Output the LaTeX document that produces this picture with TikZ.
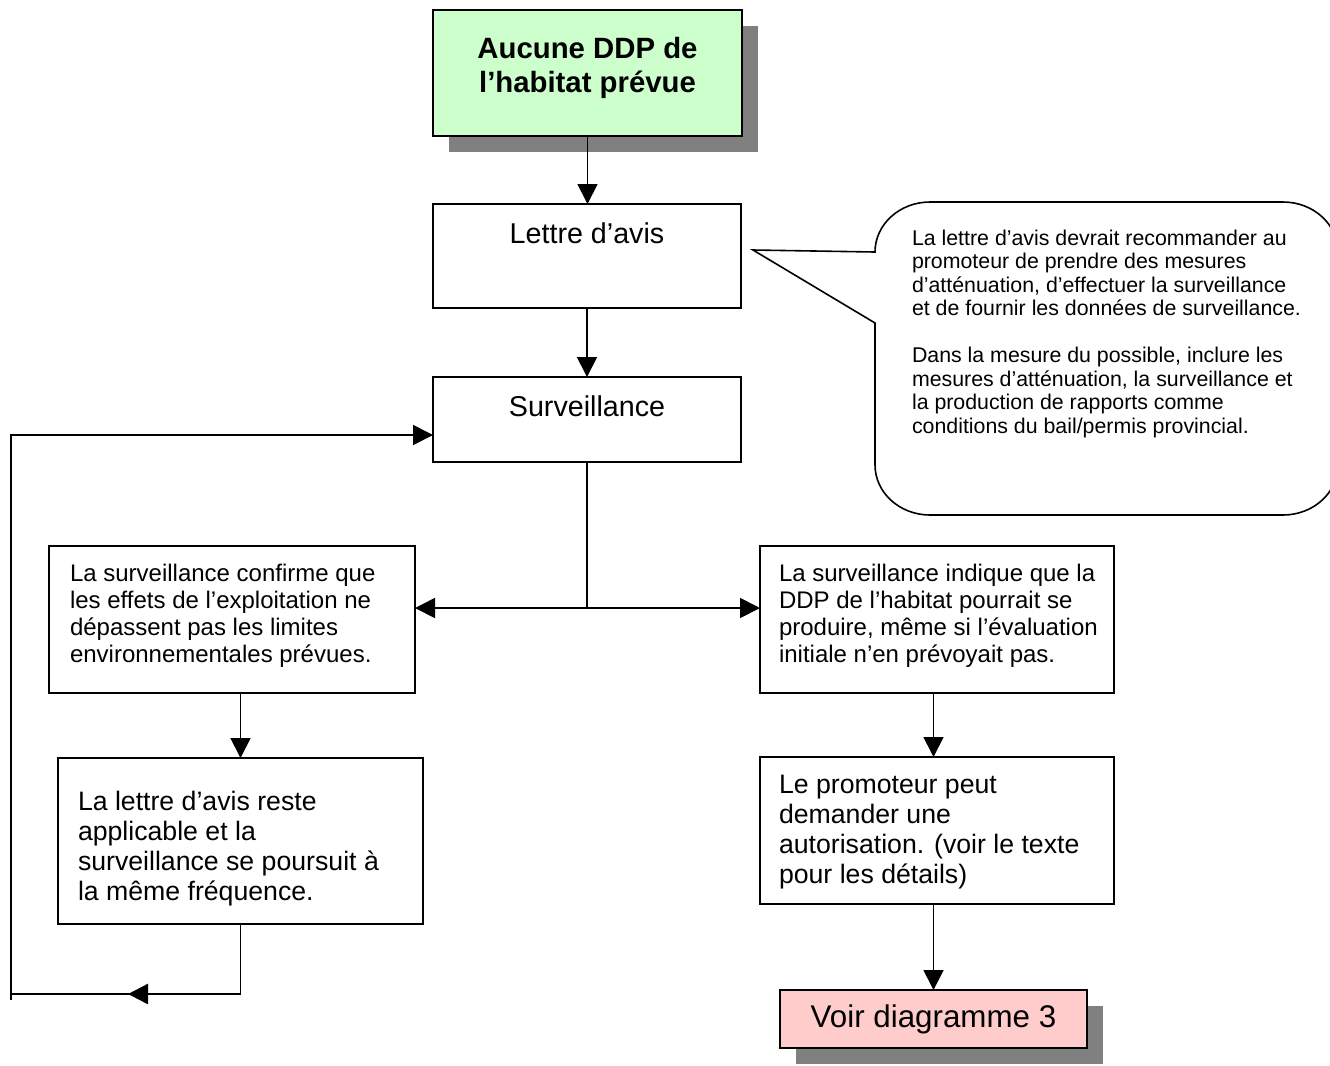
\documentclass[tikz,border=0pt]{standalone}
\usepackage{fontspec}
\setmainfont{Liberation Sans}
\usetikzlibrary{arrows.meta,shadows}
\definecolor{boxgreen}{HTML}{CCFFCC}
\definecolor{boxpink}{HTML}{FFCCCC}
\definecolor{shadowgray}{HTML}{808080}
\begin{document}
\begin{tikzpicture}[x=0.75pt,y=-0.75pt,
  every node/.style={inner sep=0pt, outer sep=0pt},
  boxsz/.style 2 args={minimum width=#1*0.75pt, minimum height=#2*0.75pt},
  flowbox/.style={draw, line width=1.3pt, fill=white, anchor=north west, rectangle},
  shadowed/.style={general shadow={fill=shadowgray, shadow xshift=12pt, shadow yshift=-12pt}},
  conn/.style={line width=1.3pt},
  arr/.style={line width=1.3pt, -{Triangle[length=15pt,width=15pt]}},
  titlefont/.style={font=\fontsize{22pt}{25.5pt}\selectfont\bfseries},
  bigfont/.style={font=\fontsize{21.5pt}{25pt}\selectfont},
  midfont/.style={font=\fontsize{18pt}{20.25pt}\selectfont},
  lgfont/.style={font=\fontsize{20pt}{22.5pt}\selectfont},
  notefont/.style={font=\fontsize{16pt}{17.6pt}\selectfont},
  boxtext/.style={anchor=north west, align=left}
]
\clip (0,0) rectangle (1330,1065);
\fill[white] (0,0) rectangle (1330,1065);

% top box
\node[flowbox, boxsz={309}{126}, fill=boxgreen, shadowed] (top) at (433,10) {};
\node[titlefont, anchor=north, align=center] (topT) at (587.5,37.5) {Aucune DDP de\\l’habitat prévue};

% lettre d'avis
\node[flowbox, boxsz={308}{104}] (lettre) at (433,204) {};
\node[bigfont, anchor=north] (lettreT) at (587,223) {Lettre d’avis};

% surveillance
\node[flowbox, boxsz={308}{85}] (surv) at (433,377) {};
\node[bigfont, anchor=north] (survT) at (587,396) {Surveillance};

% left branch
\node[flowbox, boxsz={366}{147}] (lb1) at (49,546) {};
\node[midfont, boxtext] (lb1T) at (70,564) {La surveillance confirme que\\les effets de l’exploitation ne\\dépassent pas les limites\\environnementales prévues.};

\node[flowbox, boxsz={365}{166}] (lb2) at (58,758) {};
\node[lgfont, boxtext] (lb2T) at (78,791) {La lettre d’avis reste\\applicable et la\\surveillance se poursuit à\\la même fréquence.};

% right branch
\node[flowbox, boxsz={354}{147}] (rb1) at (760,546) {};
\node[midfont, boxtext] (rb1T) at (779,564) {La surveillance indique que la\\DDP de l’habitat pourrait se\\produire, même si l’évaluation\\initiale n’en prévoyait pas.};

\node[flowbox, boxsz={354}{147}] (rb2) at (760,757) {};
\node[lgfont, boxtext] (rb2T) at (779,775) {Le promoteur peut\\demander une\\autorisation. (voir le texte\\pour les détails)};

\node[draw, line width=1.3pt, fill=boxpink, shadowed, boxsz={307}{58},
      font=\fontsize{23.5pt}{27pt}\selectfont] (voir) at (933.5,1019) {Voir diagramme 3};

% callout
\coordinate (tip) at (753,250);
\draw[line width=1.2pt, fill=white] (tip) -- (875,252)
  .. controls (875,224.4) and (899.6,202) .. (930,202) -- (1283,202)
  .. controls (1313.4,202) and (1338,224.4) .. (1338,252) -- (1338,465)
  .. controls (1338,492.6) and (1313.4,515) .. (1283,515) -- (930,515)
  .. controls (899.6,515) and (875,492.6) .. (875,465) -- (875,323) -- cycle;
\node[notefont, boxtext] (noteT) at (912,230) {La lettre d’avis devrait recommander au\\promoteur de prendre des mesures\\d’atténuation, d’effectuer la surveillance\\et de fournir les données de surveillance.\\[17.6pt]Dans la mesure du possible, inclure les\\mesures d’atténuation, la surveillance et\\la production de rapports comme\\conditions du bail/permis provincial.};

% main connectors
\draw[arr] (top.south) -- (top.south |- lettre.north);
\draw[arr] (lettre.south) -- (surv.north);
\coordinate (split) at (587,608);
\draw[conn] (surv.south) -- (split);
\draw[arr] (split) -- (split -| lb1.east);
\draw[arr] (split) -- (split -| rb1.west);
\draw[arr] (lb2.north |- lb1.south) -- (lb2.north);
\draw[arr] (voir.north |- rb1.south) -- (voir.north |- rb2.north);
\draw[arr] (voir.north |- rb2.south) -- (voir.north);

% feedback loop
\coordinate (fbR) at (240.5,994);
\coordinate (fbL) at (11,994);
\coordinate (fbBot) at (11,1000);
\coordinate (fbTop) at (11,435);
\coordinate (fbStub) at (184,994);
\coordinate (fbHead) at (128,994);
\draw[conn] (lb2.south) -- (fbR) -- (fbL);
\draw[line width=1.8pt, -{Triangle[length=15pt,width=15pt]}] (fbStub) -- (fbHead);
\draw[arr] (fbBot) -- (fbTop) -- (fbTop -| surv.west);
\end{tikzpicture}
\end{document}
